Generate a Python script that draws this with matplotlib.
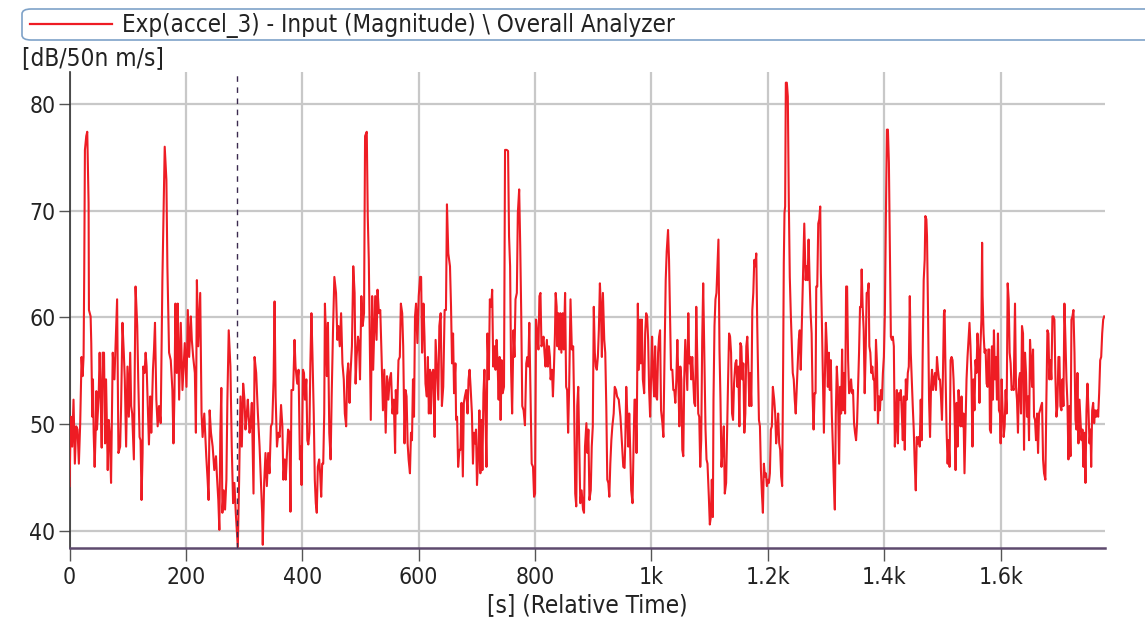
import matplotlib
matplotlib.use("Agg")
import matplotlib.pyplot as plt
from matplotlib.patches import FancyBboxPatch
from matplotlib.lines import Line2D

# ---- data: (time [s], level [dB]) ----
seg_0_330 = [
    (0, 44.2), (2.3, 50.7), (4.6, 47.9), (6.9, 52.3), (9.2, 46.3), (11.5, 49.8), (13.8, 49.5), (16.1, 46.3),
    (18.4, 50.1), (20.7, 56.3), (22.5, 54.5), (24.2, 56.3), (25.3, 64.2), (26.5, 75.7), (28.8, 77.0), (30.5, 77.4),
    (32.8, 70.7), (33.4, 60.7), (36.3, 60.1), (37.4, 57.6), (39.2, 50.7), (40.3, 54.2), (41.5, 49.2), (43.2, 46.0),
    (44.9, 49.2), (46.1, 53.1), (47.2, 49.5), (50.1, 52.6), (51.8, 56.7), (53.6, 52.6), (55.3, 47.8), (57.0, 56.7),
    (59.3, 56.7), (61.1, 48.2), (62.8, 54.2), (64.5, 49.2), (65.7, 45.7), (67.4, 50.4), (69.1, 49.2), (71.4, 44.5),
    (74.3, 56.7), (77.2, 54.2), (78.9, 57.0), (81.8, 61.7), (84.1, 47.3), (87.0, 47.9), (88.7, 51.7), (91.0, 59.5),
    (93.3, 56.7), (95.0, 54.2), (97.3, 47.9), (99.6, 55.4), (102.0, 50.7), (104.3, 56.7), (106.0, 51.7), (107.7, 51.0),
    (110.6, 46.7), (113.5, 62.9), (116.4, 59.2), (118.1, 54.2), (120.4, 48.8), (122.1, 48.5), (123.8, 42.9), (125.6, 47.3),
    (126.7, 55.4), (129.0, 54.8), (130.8, 56.7), (132.5, 55.4), (134.8, 51.3), (136.5, 48.1), (138.8, 52.6), (140.5, 49.2),
    (143.4, 55.1), (145.2, 57.0), (146.9, 59.5), (149.2, 52.3), (151.5, 49.8), (153.8, 51.7), (156.7, 50.1), (159.6, 63.5),
    (161.9, 70.4), (163.6, 76.0), (166.5, 72.9), (168.2, 64.8), (171.1, 56.7), (174.0, 56.0), (176.8, 53.2), (178.6, 48.2),
    (180.3, 52.6), (182.0, 61.3), (184.3, 54.8), (186.0, 61.3), (188.4, 52.3), (191.2, 59.5), (194.1, 53.2), (198.1, 57.6),
    (201.0, 53.5), (203.3, 60.7), (205.6, 56.3), (208.5, 60.1), (210.2, 57.9), (212.5, 56.3), (215.4, 54.8), (217.2, 49.2),
    (218.9, 63.5), (221.2, 57.3), (224.6, 62.3), (226.9, 51.0), (228.7, 48.8), (231.6, 51.0), (235.0, 47.0), (237.3, 44.8),
    (239.0, 42.9), (240.8, 51.3), (243.1, 49.2), (246.0, 47.9), (248.8, 45.7), (251.7, 47.0), (253.4, 45.1), (255.7, 42.9),
    (257.5, 40.1), (259.2, 49.2), (260.9, 53.4), (262.7, 41.7), (265.0, 43.8), (267.3, 42.0), (269.6, 44.8), (271.3, 52.3),
    (273.6, 58.8), (276.5, 55.4), (278.8, 47.9), (281.1, 42.6), (283.4, 44.5), (285.7, 41.7), (287.4, 40.1), (289.2, 38.5),
    (291.5, 44.8), (293.8, 52.6), (296.1, 47.9), (298.4, 53.8), (300.7, 52.3), (302.4, 49.5), (304.7, 51.0), (306.4, 52.3),
    (309.3, 49.2), (311.0, 49.8), (313.3, 52.0), (316.2, 43.5), (318.0, 56.3), (320.8, 54.8), (323.7, 51.0), (326.6, 47.9),
]
seg_330_640 = [
    (331.0, 41.7), (332.1, 38.7), (334.5, 44.5), (336.8, 47.3), (339.1, 44.2), (341.4, 47.3), (343.7, 45.4), (346.1, 49.8),
    (348.4, 50.1), (350.7, 54.2), (352.4, 61.5), (354.2, 52.6), (356.5, 47.9), (358.8, 49.2), (361.1, 48.8), (363.5, 51.8),
    (365.8, 49.8), (367.5, 44.8), (369.8, 46.7), (371.6, 44.8), (373.9, 47.6), (375.6, 49.5), (378.0, 49.2), (379.7, 41.8),
    (381.4, 53.2), (384.3, 53.2), (386.7, 57.9), (388.4, 55.4), (391.3, 53.8), (393.6, 55.1), (395.9, 46.7), (397.7, 47.9),
    (398.8, 44.3), (401.2, 55.1), (402.9, 54.8), (404.6, 52.3), (407.0, 54.2), (408.7, 48.5), (410.4, 48.1), (412.2, 49.2),
    (413.9, 55.7), (415.7, 60.4), (417.4, 56.7), (419.7, 51.0), (421.5, 44.8), (423.2, 42.6), (424.9, 41.7), (426.7, 46.0),
    (429.0, 46.7), (430.7, 45.4), (432.5, 43.2), (434.2, 46.3), (436.0, 46.3), (437.7, 51.0), (438.9, 61.3), (440.6, 58.5),
    (442.3, 54.5), (444.1, 59.5), (446.4, 49.2), (448.7, 46.7), (450.5, 52.6), (452.8, 58.8), (455.1, 63.8), (458.0, 62.3),
    (460.3, 57.9), (462.1, 59.2), (464.4, 57.3), (466.7, 60.4), (469.0, 55.7), (471.3, 54.2), (473.1, 51.0), (475.4, 49.8),
    (477.1, 54.5), (478.9, 55.7), (481.2, 52.0), (482.9, 54.8), (485.3, 57.3), (487.6, 64.8), (489.9, 62.3), (491.6, 53.8),
    (493.4, 56.3), (495.7, 58.2), (497.4, 57.6), (499.2, 54.2), (501.5, 62.0), (503.8, 59.2), (506.1, 60.4), (507.9, 77.0),
    (510.8, 77.4), (512.5, 69.5), (514.3, 65.4), (515.4, 60.4), (517.7, 50.4), (520.1, 62.0), (521.8, 55.1), (523.5, 58.5),
    (525.3, 62.0), (527.6, 57.9), (529.3, 62.6), (531.7, 60.4), (534.0, 60.7), (536.3, 56.3), (538.6, 51.3), (540.9, 55.1),
    (543.3, 49.2), (545.6, 54.5), (547.9, 52.3), (550.2, 54.2), (552.5, 54.8), (554.9, 51.0), (557.2, 52.3), (559.5, 47.3),
    (560.7, 53.2), (563.0, 51.0), (565.3, 56.0), (567.6, 56.3), (569.4, 61.3), (571.7, 60.4), (573.4, 57.3), (575.7, 48.2),
    (577.5, 53.2), (579.2, 52.6), (581.0, 48.2), (582.7, 46.7), (585.0, 45.4), (586.8, 49.2), (588.5, 48.5), (590.2, 54.2),
    (592.0, 50.7), (593.7, 60.1), (595.5, 61.3), (597.8, 57.6), (600.1, 62.0), (602.4, 63.8), (604.2, 63.8), (605.9, 56.7),
    (608.2, 61.3), (610.0, 58.2), (611.7, 53.8), (614.0, 52.6), (615.8, 56.3), (617.5, 51.0), (619.2, 55.1), (621.0, 51.0),
    (622.7, 54.8), (625.0, 55.1), (627.4, 48.8), (629.1, 57.9), (631.4, 55.1), (633.7, 52.3), (635.5, 59.2), (637.8, 60.4),
]
seg_640_950 = [
    (639.9, 51.7), (642.2, 53.5), (644.6, 60.7), (646.9, 60.7), (648.6, 70.6), (650.9, 66.0), (653.8, 64.8), (655.6, 61.0),
    (657.3, 55.7), (659.1, 58.5), (660.8, 52.9), (663.1, 55.7), (664.3, 50.4), (666.0, 50.7), (667.8, 46.0), (670.1, 47.6),
    (671.8, 47.6), (673.6, 52.0), (675.9, 45.1), (677.6, 52.0), (679.4, 52.6), (681.7, 53.2), (684.0, 51.0), (685.7, 54.2),
    (687.5, 55.1), (689.2, 53.5), (691.5, 51.0), (693.3, 46.3), (695.0, 49.2), (696.8, 48.2), (698.5, 49.5), (700.2, 44.3),
    (702.6, 47.6), (704.3, 51.3), (706.0, 45.4), (707.8, 50.4), (709.5, 45.7), (711.3, 52.9), (713.0, 55.1), (714.7, 51.0),
    (716.5, 46.0), (718.2, 58.5), (720.5, 54.2), (722.3, 61.7), (724.6, 61.0), (726.3, 62.6), (728.1, 55.4), (730.4, 57.3),
    (732.1, 55.1), (733.9, 57.9), (735.6, 55.7), (737.4, 52.3), (739.1, 56.3), (740.8, 50.4), (742.6, 56.0), (744.3, 52.9),
    (746.6, 53.5), (748.4, 75.7), (751.3, 75.7), (753.6, 75.6), (755.3, 67.6), (757.1, 64.8), (758.8, 55.1), (760.6, 51.0),
    (762.9, 58.8), (764.6, 56.3), (766.4, 61.7), (768.7, 62.3), (770.4, 69.8), (772.7, 72.0), (774.5, 66.7), (776.2, 60.4),
    (778.0, 51.7), (780.3, 51.3), (782.6, 49.9), (784.9, 55.7), (786.7, 56.3), (788.4, 55.4), (790.1, 59.5), (791.9, 53.5),
    (794.2, 46.3), (796.5, 46.0), (798.3, 43.2), (800.0, 43.5), (801.7, 59.8), (803.5, 58.5), (805.8, 57.0), (807.5, 62.0),
    (809.3, 62.3), (811.0, 57.3), (812.8, 57.6), (814.5, 58.2), (816.2, 56.7), (818.0, 55.4), (820.3, 57.9), (822.0, 55.4),
    (823.8, 57.3), (825.5, 56.3), (826.7, 54.2), (829.0, 55.1), (830.7, 52.6), (832.5, 55.4), (834.2, 58.5), (835.4, 62.3),
    (837.1, 61.0), (838.3, 57.3), (840.0, 60.4), (841.8, 57.0), (843.5, 60.4), (845.2, 56.7), (847.6, 60.4), (849.3, 57.0),
    (851.6, 62.3), (853.4, 53.5), (855.1, 53.2), (856.8, 49.2), (858.6, 53.5), (860.9, 61.7), (863.2, 57.0), (865.5, 57.3),
    (867.3, 51.0), (869.0, 43.5), (870.8, 42.3), (872.5, 51.7), (874.2, 53.5), (876.0, 47.9), (877.7, 42.6), (880.0, 43.8),
    (882.4, 42.0), (884.1, 41.7), (885.8, 47.9), (888.2, 50.1), (889.9, 47.3), (891.6, 49.5), (893.4, 42.9), (895.7, 43.8),
    (897.4, 47.9), (899.2, 49.8), (900.9, 61.0), (902.7, 56.7), (904.4, 55.4), (906.1, 55.1), (907.9, 56.3), (909.6, 58.8),
    (911.4, 63.2), (913.1, 61.0), (914.8, 56.3), (916.6, 62.3), (918.9, 57.9), (920.6, 56.7), (922.4, 51.7), (924.1, 44.8),
    (925.9, 44.5), (927.6, 43.2), (929.3, 46.3), (931.1, 48.5), (932.8, 49.8), (935.1, 51.0), (936.9, 53.5), (939.2, 53.2),
    (940.9, 52.6), (943.8, 52.3), (946.7, 50.7),
]
seg_950_1260 = [
    (949.3, 48.2), (951.6, 46.0), (953.8, 45.9), (955.0, 48.2), (956.7, 53.5), (958.4, 51.0), (960.1, 47.9), (961.8, 51.0),
    (963.5, 47.6), (965.2, 43.8), (967.5, 42.6), (969.2, 47.9), (970.9, 52.3), (972.6, 52.3), (974.4, 47.3), (975.5, 54.8),
    (976.6, 61.3), (978.3, 55.1), (980.6, 59.8), (981.8, 55.7), (983.5, 59.8), (985.2, 54.2), (987.5, 52.9), (989.2, 58.5),
    (990.9, 60.4), (992.6, 60.1), (994.3, 57.9), (996.0, 53.2), (997.7, 50.7), (999.4, 54.5), (1001.1, 58.2), (1002.9, 54.5),
    (1004.6, 52.6), (1006.3, 57.3), (1008.0, 52.6), (1009.7, 52.3), (1011.4, 56.7), (1013.1, 58.2), (1014.8, 58.8), (1016.5, 51.3),
    (1018.8, 50.1), (1020.5, 48.8), (1022.2, 55.4), (1024.5, 63.5), (1026.2, 66.2), (1028.5, 68.2), (1030.2, 65.4), (1031.9, 60.4),
    (1033.6, 55.1), (1035.9, 55.1), (1037.6, 53.2), (1039.3, 53.2), (1041.0, 52.0), (1042.8, 54.2), (1044.5, 57.9), (1046.2, 54.2),
    (1047.9, 49.8), (1049.6, 55.4), (1051.3, 54.2), (1053.0, 47.6), (1054.7, 47.0), (1056.4, 54.5), (1058.1, 57.9), (1059.9, 55.4),
    (1061.6, 53.2), (1063.3, 60.4), (1065.0, 55.7), (1066.7, 56.3), (1068.4, 54.2), (1070.1, 56.3), (1071.8, 54.2), (1073.5, 52.0),
    (1075.2, 51.7), (1077.0, 61.0), (1078.7, 56.3), (1080.4, 51.0), (1082.1, 50.7), (1083.8, 46.0), (1085.5, 48.5), (1087.2, 57.9),
    (1088.9, 63.2), (1090.6, 57.3), (1092.9, 49.5), (1094.6, 46.7), (1096.3, 46.3), (1098.6, 43.2), (1100.3, 40.6), (1102.0, 41.3),
    (1103.7, 44.8), (1105.5, 41.3), (1106.6, 52.3), (1108.3, 59.2), (1110.0, 61.7), (1111.7, 62.3), (1113.4, 64.8), (1115.1, 67.3),
    (1116.9, 57.0), (1118.6, 52.3), (1120.3, 46.0), (1122.6, 47.9), (1124.3, 49.8), (1126.0, 43.5), (1128.3, 44.5), (1130.0, 49.5),
    (1131.7, 54.2), (1133.4, 58.5), (1135.1, 58.2), (1136.8, 56.7), (1138.5, 51.0), (1140.2, 50.4), (1141.9, 53.8), (1144.2, 55.7),
    (1145.9, 56.0), (1147.6, 53.5), (1149.3, 55.4), (1151.1, 49.8), (1152.8, 57.6), (1154.5, 57.3), (1156.2, 54.2), (1157.9, 55.7),
    (1159.6, 49.2), (1161.3, 51.0), (1163.0, 57.3), (1164.7, 58.2), (1166.4, 55.4), (1168.2, 51.7), (1169.9, 54.8), (1171.6, 51.7),
    (1173.3, 60.7), (1175.0, 62.3), (1176.7, 65.4), (1178.4, 64.8), (1180.1, 66.0), (1181.8, 59.2), (1183.5, 54.2), (1184.7, 50.4),
    (1186.4, 49.8), (1188.1, 45.7), (1189.8, 43.5), (1191.5, 41.7), (1193.2, 46.3), (1194.9, 45.1), (1196.7, 45.4), (1198.4, 44.2),
    (1200.1, 44.8), (1201.8, 44.5), (1203.5, 45.4), (1205.2, 49.5), (1206.9, 49.8), (1208.6, 53.5), (1210.9, 52.3), (1212.6, 51.0),
    (1214.3, 48.2), (1216.0, 49.5), (1217.7, 51.0), (1219.5, 48.2), (1221.2, 47.6), (1222.9, 45.1), (1224.6, 44.2), (1226.3, 55.7),
    (1227.4, 65.1), (1228.6, 69.8), (1229.7, 70.4), (1230.9, 82.0), (1232.6, 82.0), (1234.3, 80.7), (1236.0, 71.0), (1237.7, 63.8),
    (1239.4, 60.4), (1241.1, 57.6), (1242.8, 54.8), (1244.5, 54.2), (1246.2, 52.3), (1247.9, 51.0), (1249.7, 53.5), (1251.4, 55.7),
    (1253.1, 57.9), (1254.8, 58.8), (1256.5, 55.1),
]
seg_1260_1570 = [
    (1260.9, 64.8), (1262.6, 68.8), (1264.9, 63.5), (1266.6, 64.8), (1268.3, 63.5), (1270.0, 67.3), (1271.8, 63.5), (1273.5, 60.4),
    (1275.2, 58.5), (1276.9, 52.6), (1278.6, 49.5), (1280.3, 52.9), (1282.0, 52.9), (1283.2, 62.9), (1284.9, 62.9), (1286.6, 68.8),
    (1288.3, 69.2), (1290.0, 70.4), (1291.1, 64.2), (1292.8, 59.8), (1294.5, 54.8), (1296.3, 49.2), (1298.0, 54.2), (1299.7, 59.5),
    (1301.4, 57.3), (1303.1, 53.5), (1304.8, 56.7), (1306.5, 53.2), (1308.2, 56.0), (1309.9, 51.0), (1311.7, 47.9), (1313.4, 44.5),
    (1315.1, 42.0), (1316.8, 51.0), (1318.5, 55.4), (1320.2, 53.5), (1322.5, 46.3), (1324.2, 53.5), (1325.9, 51.0), (1327.6, 57.0),
    (1329.3, 51.3), (1331.0, 54.8), (1332.7, 51.0), (1334.5, 62.9), (1336.2, 62.9), (1337.9, 56.0), (1339.6, 52.9), (1341.3, 53.2),
    (1343.0, 54.2), (1344.7, 52.9), (1346.4, 53.2), (1348.1, 50.1), (1349.8, 49.2), (1351.6, 48.5), (1353.3, 50.1), (1355.0, 53.5),
    (1356.7, 56.7), (1358.4, 61.0), (1360.1, 61.0), (1361.2, 64.5), (1362.9, 61.0), (1364.7, 58.8), (1366.4, 52.9), (1368.1, 56.7),
    (1369.8, 62.3), (1371.5, 62.3), (1373.2, 63.2), (1374.4, 57.3), (1376.1, 56.7), (1377.8, 54.8), (1379.5, 55.4), (1381.2, 54.2),
    (1382.9, 54.2), (1384.0, 51.3), (1385.8, 57.9), (1387.5, 55.7), (1389.2, 50.1), (1390.9, 52.6), (1392.6, 51.3), (1394.3, 53.2),
    (1396.0, 52.3), (1397.7, 54.8), (1399.4, 56.3), (1401.1, 60.4), (1402.9, 69.8), (1404.6, 77.6), (1406.3, 77.6), (1408.0, 74.5),
    (1409.7, 66.7), (1411.4, 58.2), (1413.1, 57.9), (1414.8, 58.2), (1416.5, 57.3), (1418.2, 47.9), (1420.0, 50.1), (1421.7, 53.2),
    (1423.4, 48.2), (1425.1, 52.9), (1426.8, 52.3), (1428.5, 53.2), (1430.2, 51.0), (1431.9, 48.5), (1433.6, 52.6), (1435.3, 47.6),
    (1437.1, 54.2), (1438.8, 52.3), (1440.5, 54.8), (1442.2, 55.4), (1443.9, 62.0), (1445.6, 56.7), (1447.3, 54.2), (1449.0, 51.7),
    (1450.7, 49.5), (1452.4, 46.3), (1454.2, 43.8), (1455.9, 48.8), (1457.6, 48.2), (1459.3, 48.8), (1461.0, 47.9), (1462.7, 52.3),
    (1464.4, 48.5), (1466.1, 56.7), (1467.8, 63.5), (1469.5, 65.4), (1470.7, 69.5), (1472.4, 69.2), (1473.5, 67.6), (1475.2, 60.7),
    (1477.0, 52.3), (1478.7, 48.8), (1480.4, 53.5), (1482.1, 55.1), (1483.8, 53.2), (1485.5, 54.2), (1487.2, 54.8), (1488.9, 53.2),
    (1490.6, 56.3), (1492.3, 55.1), (1494.1, 54.2), (1495.8, 54.2), (1497.5, 52.6), (1499.2, 50.4), (1500.9, 54.8), (1502.6, 60.4),
    (1503.7, 60.7), (1505.5, 54.2), (1507.2, 49.2), (1508.9, 46.3), (1510.6, 48.5), (1512.3, 46.0), (1514.0, 56.0), (1515.7, 56.3),
    (1517.4, 56.0), (1519.1, 54.2), (1520.8, 51.0), (1522.6, 45.7), (1524.3, 52.0), (1526.0, 47.9), (1527.7, 53.2), (1529.4, 51.0),
    (1531.1, 49.8), (1532.8, 52.6), (1534.5, 49.8), (1536.2, 51.0), (1537.9, 45.4), (1539.7, 50.1), (1541.4, 54.2), (1543.1, 56.3),
    (1544.8, 57.9), (1546.5, 59.5), (1548.2, 57.3), (1549.9, 54.2), (1551.6, 47.9), (1553.3, 54.2), (1555.0, 51.3), (1556.8, 56.0),
    (1558.5, 54.8), (1560.2, 58.5), (1561.9, 56.7), (1563.6, 52.0), (1565.3, 57.3), (1567.0, 59.8), (1568.2, 67.0),
]
seg_1570_1780 = [
    (1569.0, 62.0), (1570.7, 58.5), (1572.4, 56.7), (1574.2, 57.0), (1575.9, 53.8), (1577.6, 53.5), (1578.8, 57.0), (1580.5, 57.0),
    (1581.6, 49.5), (1583.4, 49.2), (1585.1, 57.3), (1586.8, 52.3), (1588.5, 58.8), (1590.2, 54.2), (1592.0, 56.3), (1593.7, 52.3),
    (1595.4, 58.5), (1597.1, 51.3), (1598.9, 51.0), (1600.0, 48.2), (1601.7, 54.2), (1603.4, 51.3), (1605.2, 48.8), (1606.9, 49.8),
    (1608.6, 53.2), (1610.3, 51.0), (1612.1, 63.2), (1613.8, 61.7), (1615.5, 56.7), (1617.2, 55.7), (1618.9, 53.2), (1620.7, 53.5),
    (1622.4, 53.2), (1624.7, 61.3), (1626.4, 53.5), (1628.1, 52.3), (1629.8, 49.2), (1631.6, 54.2), (1633.3, 54.8), (1635.0, 51.0),
    (1636.7, 59.2), (1638.5, 58.5), (1640.2, 47.6), (1641.9, 56.7), (1643.6, 54.8), (1645.3, 50.7), (1647.1, 52.6), (1648.8, 48.5),
    (1650.5, 57.9), (1652.2, 56.0), (1654.0, 53.5), (1655.7, 57.0), (1657.4, 50.7), (1659.1, 50.4), (1660.8, 48.5), (1662.6, 51.0),
    (1664.3, 47.3), (1666.0, 51.0), (1667.7, 51.3), (1669.5, 51.7), (1671.2, 52.0), (1672.9, 46.7), (1674.6, 45.4), (1676.9, 44.8),
    (1678.6, 52.3), (1680.4, 58.8), (1682.1, 58.5), (1683.8, 54.2), (1685.5, 56.0), (1687.2, 54.2), (1689.0, 60.1), (1690.7, 60.1),
    (1692.4, 59.8), (1694.1, 54.5), (1695.9, 50.7), (1697.6, 51.7), (1699.3, 56.3), (1701.0, 56.3), (1702.7, 51.7), (1704.5, 51.3),
    (1706.2, 54.2), (1707.9, 51.7), (1709.6, 61.3), (1711.4, 57.9), (1713.1, 54.2), (1714.8, 52.0), (1716.5, 46.7), (1718.2, 51.7),
    (1720.0, 47.0), (1721.7, 59.8), (1723.4, 60.1), (1725.1, 60.7), (1726.9, 56.7), (1728.6, 50.4), (1730.3, 49.5), (1732.0, 54.8),
    (1733.7, 48.2), (1735.5, 52.3), (1737.2, 50.4), (1738.9, 48.5), (1740.6, 49.5), (1742.4, 46.0), (1744.1, 49.2), (1745.8, 44.5),
    (1747.5, 51.3), (1749.2, 53.8), (1751.0, 51.3), (1752.7, 48.2), (1754.4, 49.5), (1755.6, 46.0), (1757.3, 51.3), (1759.0, 52.0),
    (1760.7, 50.1), (1762.4, 51.3), (1764.2, 50.7), (1765.9, 51.3), (1767.6, 50.7), (1769.3, 52.9), (1771.1, 56.0), (1772.8, 56.3),
    (1774.5, 58.5), (1776.2, 59.8), (1778.0, 60.1),
]

x_ticks = [0, 200, 400, 600, 800, 1000, 1200, 1400, 1600]
x_tick_labels = ["0", "200", "400", "600", "800", "1k", "1.2k", "1.4k", "1.6k"]
y_ticks = [40, 50, 60, 70, 80]
cursor_time = 288
legend_label = "Exp(accel_3) - Input (Magnitude) \\ Overall Analyzer"
y_unit = "[dB/50n m/s]"
x_label = "[s] (Relative Time)"

points = seg_0_330 + seg_330_640 + seg_640_950 + seg_950_1260 + seg_1260_1570 + seg_1570_1780
time_s = [p[0] for p in points]
level_db = [p[1] for p in points]

# ---- style ----
FONT = dict(family="DejaVu Sans", stretch="condensed")
W, H = 1145, 618
fig = plt.figure(figsize=(W / 100, H / 100), dpi=100)
ax = fig.add_axes([69.5 / W, 1 - 548 / H, (1104.8 - 69.5) / W, (548 - 72) / H])

ax.plot(time_s, level_db, color="#ee1c24", lw=1.5, zorder=3)
ax.axvline(cursor_time, color="#3b2a4f", lw=1.0, ls=(0, (4, 4)), zorder=4)

ax.set_xlim(0, 1779)
ax.set_ylim(38.4, 83.0)
ax.set_xticks(x_ticks)
ax.set_xticklabels(x_tick_labels)
ax.set_yticks(y_ticks)
ax.grid(True, color="#c8c8c8", lw=1.6, zorder=0)
ax.set_axisbelow(True)

for s in ("top", "right"):
    ax.spines[s].set_visible(False)
ax.spines["left"].set_color("#333333")
ax.spines["left"].set_linewidth(1.2)
ax.spines["bottom"].set_color("#5e4a6e")
ax.spines["bottom"].set_linewidth(1.8)

ax.tick_params(axis="x", direction="out", length=9, width=1.0, color="#555555", pad=4, labelsize=16.5, labelcolor="#222222")
ax.tick_params(axis="y", direction="out", length=8, width=1.0, color="#555555", pad=2, labelsize=16.5, labelcolor="#222222")
for lab in ax.get_xticklabels() + ax.get_yticklabels():
    lab.set_fontfamily(FONT["family"])
    lab.set_fontstretch(FONT["stretch"])

ax.set_xlabel(x_label, fontsize=17.5, color="#222222", labelpad=3, **FONT)

fig.text(22 / W, 1 - 58 / H, y_unit, fontsize=17.5, color="#222222", va="center", ha="left", **FONT)

# legend box (runs off the right edge)
box = FancyBboxPatch((22 / W, 1 - 40 / H), 1200 / W, 31 / H,
                     boxstyle="round,pad=0,rounding_size=0.008",
                     transform=fig.transFigure, facecolor="white", edgecolor="#7ea2c8",
                     lw=1.2, clip_on=False)
fig.patches.append(box)
fig.lines.append(Line2D([30 / W, 112 / W], [1 - 24 / H, 1 - 24 / H], transform=fig.transFigure,
                        color="#ee1c24", lw=1.6))
fig.text(122 / W, 1 - 25 / H, legend_label, fontsize=17.3, color="#222222", va="center", ha="left", **FONT)

fig.savefig("out.png", dpi=100, facecolor="white")
